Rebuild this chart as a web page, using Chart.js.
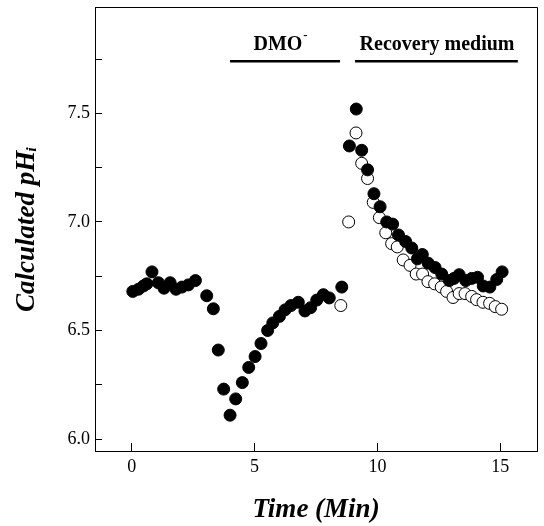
<!DOCTYPE html>
<html>
<head>
<meta charset="utf-8">
<script src="https://cdn.jsdelivr.net/npm/chart.js@4"></script>
<style>
  html, body { margin: 0; padding: 0; background: #fff; }
  #wrap { width: 544px; height: 526px; }
</style>
</head>
<body>
<div id="wrap"><canvas id="phChart"></canvas></div>
<script>
// filled circles: baseline, DMO- and recovery (one cell)
const filledTime = [0.04, 0.27, 0.47, 0.61, 0.82, 1.08, 1.31, 1.56, 1.80, 2.04, 2.30, 2.59,
    3.05, 3.32, 3.52, 3.74, 4.00, 4.23, 4.50, 4.76, 5.02, 5.26, 5.53, 5.74, 6.01, 6.24, 6.48,
    6.78, 7.05, 7.28, 7.53, 7.80, 8.04, 8.55,
    8.86, 9.14, 9.36, 9.60, 9.86, 10.11, 10.38, 10.62, 10.86, 11.15, 11.40, 11.63, 11.83,
    12.07, 12.35, 12.62, 12.93, 13.12, 13.33, 13.60, 13.84, 14.08, 14.31, 14.58, 14.86, 15.08];
const filledPH = [6.68, 6.69, 6.705, 6.715, 6.77, 6.72, 6.695, 6.72, 6.69, 6.70, 6.71, 6.73,
    6.66, 6.60, 6.41, 6.23, 6.11, 6.185, 6.26, 6.33, 6.38, 6.44, 6.50, 6.535, 6.565, 6.595, 6.615,
    6.63, 6.59, 6.605, 6.64, 6.665, 6.65, 6.70,
    7.35, 7.52, 7.33, 7.24, 7.13, 7.07, 7.00, 6.99, 6.94, 6.91, 6.88, 6.83, 6.85,
    6.81, 6.79, 6.76, 6.73, 6.74, 6.757, 6.73, 6.74, 6.745, 6.705, 6.70, 6.735, 6.77];

// open circles: second cell
const openTime = [8.51, 8.83, 9.13, 9.36, 9.60, 9.83, 10.08, 10.34, 10.58, 10.81, 11.05, 11.33,
    11.58, 11.84, 12.06, 12.33, 12.60, 12.82, 13.08, 13.33, 13.57, 13.84, 14.04, 14.30, 14.57,
    14.80, 15.06];
const openPH = [6.615, 7.00, 7.41, 7.27, 7.20, 7.09, 7.02, 6.95, 6.90, 6.885, 6.825, 6.80,
    6.76, 6.76, 6.725, 6.715, 6.70, 6.68, 6.652, 6.67, 6.67, 6.657, 6.642, 6.63, 6.625,
    6.61, 6.598];

const xTicks = [0, 5, 10, 15];
const yTickLabels = ['6.0', '6.5', '7.0', '7.5'];

// treatment periods (min) and where the bars sit (pH units)
const periods = [
    { label: 'DMO', sup: '-', start: 4.0, end: 8.48, center: 6.03 },
    { label: 'Recovery medium', sup: '', start: 9.09, end: 15.72, center: 12.43 }
];
const barLevel = 7.74;
const labelLevel = 7.815;

const serif = '"Liberation Serif", "Times New Roman", serif';

const toPoints = (xs, ys) => xs.map((x, i) => ({ x: x, y: ys[i] }));

// frame on top/right + the period bars and labels
const extrasPlugin = {
    id: 'extras',
    afterDraw(chart) {
        const { ctx, chartArea, scales } = chart;
        ctx.save();
        ctx.strokeStyle = '#000';
        ctx.lineWidth = 1;
        ctx.beginPath();
        ctx.moveTo(chartArea.left, chartArea.top + 0.5);
        ctx.lineTo(chartArea.right + 0.5, chartArea.top + 0.5);
        ctx.lineTo(chartArea.right + 0.5, chartArea.bottom);
        ctx.stroke();

        const yb = scales.y.getPixelForValue(barLevel);
        const yl = scales.y.getPixelForValue(labelLevel);
        periods.forEach(p => {
            const x1 = scales.x.getPixelForValue(p.start);
            const x2 = scales.x.getPixelForValue(p.end);
            ctx.lineWidth = 2.5;
            ctx.beginPath();
            ctx.moveTo(x1, yb);
            ctx.lineTo(x2, yb);
            ctx.stroke();

            const xc = scales.x.getPixelForValue(p.center);
            ctx.font = 'bold 20px ' + serif;
            ctx.fillStyle = '#000';
            ctx.textBaseline = 'middle';
            const w = ctx.measureText(p.label).width;
            const sw = p.sup ? ctx.measureText(p.sup).width * 0.6 : 0;
            ctx.textAlign = 'left';
            ctx.fillText(p.label, xc - (w + sw) / 2, yl);
            if (p.sup) {
                ctx.font = 'bold 13px ' + serif;
                ctx.fillText(p.sup, xc - (w + sw) / 2 + w + 1, yl - 9);
            }
        });
        ctx.restore();
    }
};

new Chart(document.getElementById('phChart'), {
    type: 'scatter',
    data: {
        datasets: [
            {
                label: 'filled',
                data: toPoints(filledTime, filledPH),
                pointRadius: 6,
                pointBackgroundColor: '#000',
                pointBorderColor: '#000',
                pointBorderWidth: 1
            },
            {
                label: 'open',
                data: toPoints(openTime, openPH),
                pointRadius: 6,
                pointBackgroundColor: '#fff',
                pointBorderColor: '#000',
                pointBorderWidth: 1
            }
        ]
    },
    options: {
        responsive: true,
        maintainAspectRatio: false,
        animation: false,
        layout: { padding: { top: 6, right: 7, left: 0, bottom: 0 } },
        plugins: { legend: { display: false }, tooltip: { enabled: false } },
        scales: {
            x: {
                type: 'linear',
                min: -1.5,
                max: 16.5,
                afterBuildTicks: s => { s.ticks = xTicks.map(v => ({ value: v })); },
                afterFit: s => { s.height = 75; s.paddingLeft = 0; s.paddingRight = 0; },
                border: { color: '#000', width: 1 },
                grid: { drawOnChartArea: false, color: '#000', tickLength: -8 },
                ticks: {
                    color: '#000',
                    padding: 13,
                    maxRotation: 0,
                    font: { family: serif, size: 18 }
                },
                title: {
                    display: true,
                    text: 'Time (Min)',
                    color: '#000',
                    padding: { top: 0, bottom: 0 },
                    font: { family: serif, size: 27, weight: 'bold', style: 'italic' }
                }
            },
            y: {
                type: 'linear',
                min: 5.945,
                max: 7.99,
                afterBuildTicks: s => {
                    const t = [];
                    for (let v = 6.0; v < 7.9; v += 0.25) t.push({ value: Math.round(v * 100) / 100 });
                    s.ticks = t;
                },
                afterFit: s => { s.width = 95; s.paddingTop = 0; s.paddingBottom = 0; },
                border: { color: '#000', width: 1 },
                grid: { drawOnChartArea: false, color: '#000', tickLength: -7 },
                ticks: {
                    color: '#000',
                    padding: 12,
                    font: { family: serif, size: 18 },
                    callback: v => {
                        const i = yTickLabels.indexOf(v.toFixed(1));
                        return (Math.abs(v * 2 - Math.round(v * 2)) < 1e-6 && i >= 0) ? yTickLabels[i] : '';
                    }
                },
                title: {
                    display: true,
                    text: 'Calculated pHᵢ',
                    color: '#000',
                    padding: { top: 11, bottom: 0 },
                    font: { family: serif, size: 27, weight: 'bold', style: 'italic' }
                }
            }
        }
    },
    plugins: [extrasPlugin]
});
</script>
</body>
</html>
